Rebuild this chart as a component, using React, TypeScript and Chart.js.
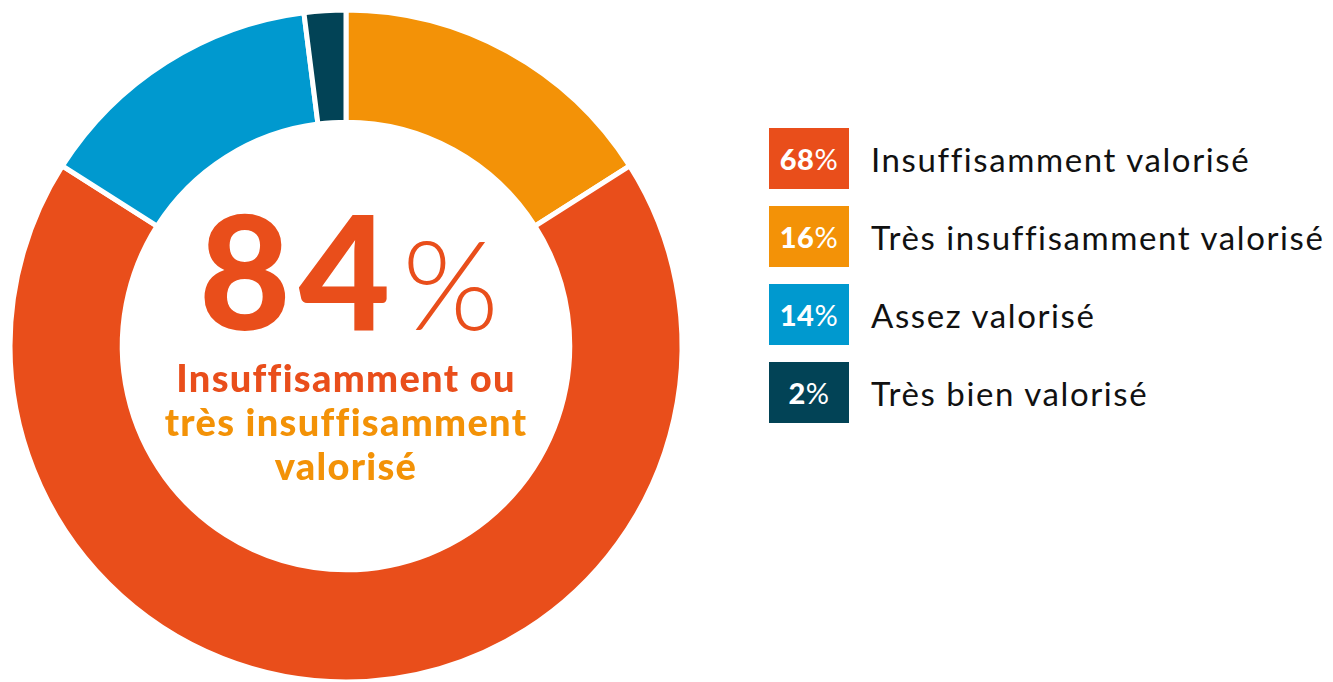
import React, { useEffect, useRef } from "react";
import { Chart, registerables } from "chart.js";
Chart.register(...registerables);

// Data in chart (clockwise from 12 o'clock)
const categories = [
  "Très insuffisamment valorisé",
  "Insuffisamment valorisé",
  "Assez valorisé",
  "Très bien valorisé",
];
const values = [16, 68, 14, 2];
const colors = ["#F39207", "#E94E1B", "#0099CF", "#024356"];
// Legend order (indexes into the arrays above)
const legendOrder = [1, 0, 2, 3];

const centerValue = "84";
const centerLine1 = "Insuffisamment ou";
const centerLine2 = "très insuffisamment";
const centerLine3 = "valorisé";

const FONT = "Lato, 'Open Sans', sans-serif";

export default function App() {
  const ref = useRef<HTMLCanvasElement | null>(null);

  useEffect(() => {
    if (!ref.current) return;
    const chart = new Chart(ref.current, {
      type: "doughnut",
      data: {
        labels: categories,
        datasets: [
          {
            data: values,
            backgroundColor: colors,
            borderColor: "#ffffff",
            borderWidth: 5,
            hoverOffset: 0,
          },
        ],
      },
      options: {
        animation: false,
        responsive: false,
        maintainAspectRatio: false,
        radius: 336,
        cutout: "66.6%",
        rotation: 0,
        layout: { padding: 0 },
        plugins: {
          legend: { display: false },
          tooltip: { enabled: false },
        },
      },
    });
    return () => chart.destroy();
  }, []);

  return (
    <div
      style={{
        position: "absolute",
        left: 0,
        top: 0,
        width: 1333,
        height: 682,
        background: "#ffffff",
        overflow: "hidden",
        fontFamily: FONT,
      }}
    >
      <canvas
        ref={ref}
        width={692}
        height={692}
        style={{ position: "absolute", left: 0, top: 0, width: 692, height: 692 }}
      />
      {/* Center text */}
      <div
        style={{
          position: "absolute",
          left: 149,
          width: 400,
          top: 190,
          textAlign: "center",
          color: "#E94E1B",
          fontSize: 158,
          lineHeight: "158px",
          whiteSpace: "nowrap",
        }}
      >
        <span style={{ fontWeight: 900, letterSpacing: 8 }}>{centerValue}</span>
        <span style={{ fontWeight: 300, fontSize: 124, marginLeft: 4 }}>%</span>
      </div>
      <div
        style={{
          position: "absolute",
          left: 96,
          width: 500,
          top: 355,
          textAlign: "center",
          fontSize: 38,
          fontWeight: 900,
          letterSpacing: 1.3,
          lineHeight: "44px",
          whiteSpace: "nowrap",
        }}
      >
        <div style={{ color: "#E94E1B" }}>{centerLine1}</div>
        <div style={{ color: "#F39207" }}>{centerLine2}</div>
        <div style={{ color: "#F39207" }}>{centerLine3}</div>
      </div>
      {/* Legend */}
      {legendOrder.map((idx, i) => (
        <div
          key={idx}
          style={{
            position: "absolute",
            left: 769,
            top: 128 + i * 78,
            height: 61,
            display: "flex",
            alignItems: "center",
            whiteSpace: "nowrap",
          }}
        >
          <div
            style={{
              width: 80,
              height: 61,
              background: colors[idx],
              color: "#ffffff",
              display: "flex",
              alignItems: "center",
              justifyContent: "center",
              fontSize: 29,
              letterSpacing: 0.5,
            }}
          >
            <span style={{ fontWeight: 900 }}>{values[idx]}</span>
            <span style={{ fontWeight: 400 }}>%</span>
          </div>
          <div
            style={{
              marginLeft: 22,
              fontSize: 33,
              letterSpacing: 1.6,
              color: "#111111",
            }}
          >
            {categories[idx]}
          </div>
        </div>
      ))}
    </div>
  );
}
